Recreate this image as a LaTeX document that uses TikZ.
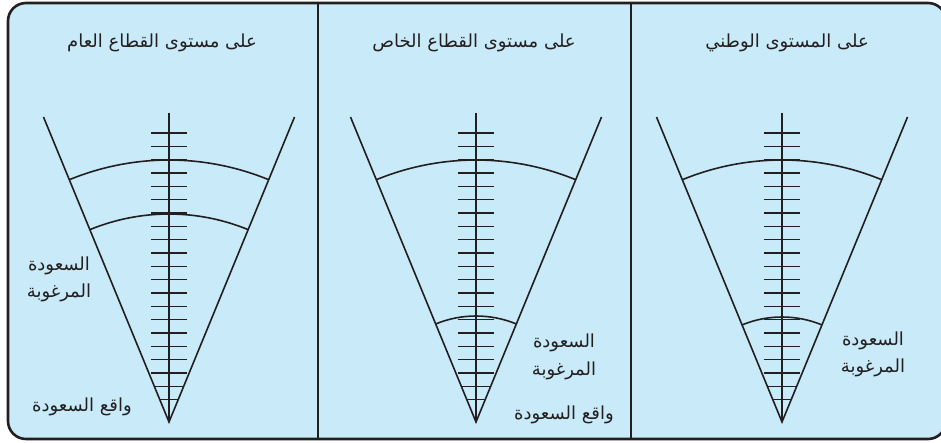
\documentclass[tikz,border=0pt]{standalone}
\usepackage{fontspec}
\newfontfamily\arabicfont[Script=Arabic]{DejaVu Sans}
\TeXXeTstate=1
\definecolor{panelblue}{HTML}{C9EAF9}
\definecolor{inkgray}{HTML}{231F20}

\begin{document}
\begin{tikzpicture}[
x=1pt, y=1pt,
every node/.style={
inner sep=0pt,
text=inkgray,
font=\arabicfont\fontsize{18}{20}\selectfont
},
titletext/.style={
font=\arabicfont\fontsize{18}{20}\selectfont
},
vline/.style={
draw=inkgray,
line width=1.6pt
},
ticks/.style={
draw=inkgray,
line width=1.3pt
}
]

\useasboundingbox (0,0) rectangle (941,442);

% frame and dividers
\draw[fill=panelblue, draw=inkgray, line width=2.6pt, rounded corners=18pt]
(8,3) rectangle (946,439);
\draw[inkgray, line width=1.8pt] (318,3) -- (318,439);
\draw[inkgray, line width=1.8pt] (631,3) -- (631,439);

% funnels
\foreach \n/\ax/\lr in {1/169/208, 2/476/106, 3/782/105} {
\coordinate (apex\n) at (\ax,20);
\coordinate (tl\n) at (\ax-125.5,325);
\coordinate (tr\n) at (\ax+125.5,325);
\coordinate (top\n) at (\ax,329);
\begin{scope}
\clip (tl\n) -- (apex\n) -- (tr\n) -- cycle;
\foreach \k in {0,...,20}
\draw[ticks] (\ax-18,309-13.33*\k) -- (\ax+18,309-13.33*\k);
\end{scope}
\draw[vline] (tl\n) -- (apex\n) -- (tr\n);
\draw[vline] (top\n) -- (apex\n);
\draw[vline] (apex\n) ++(67.6:262) arc (67.6:112.4:262);
\draw[vline] (apex\n) ++(67.6:\lr) arc (67.6:112.4:\lr);
}

% titles
\node[titletext] (title1) at (162,399) {\beginR على مستوى القطاع العام\endR};
\node[titletext] (title2) at (474,399) {\beginR على مستوى القطاع الخاص\endR};
\node[titletext] (title3) at (787,399) {\beginR على المستوى الوطني\endR};

% labels
\node (wish1a) at (59,176) {\beginR السعودة\endR};
\node (wish1b) at (59,149) {\beginR المرغوبة\endR};
\node (real1) at (82,35) {\beginR واقع السعودة\endR};

\node (wish2a) at (564,99) {\beginR السعودة\endR};
\node (wish2b) at (564,71) {\beginR المرغوبة\endR};
\node (real2) at (564,27) {\beginR واقع السعودة\endR};

\node (wish3a) at (873,101) {\beginR السعودة\endR};
\node (wish3b) at (873,74) {\beginR المرغوبة\endR};

\end{tikzpicture}
\end{document}
